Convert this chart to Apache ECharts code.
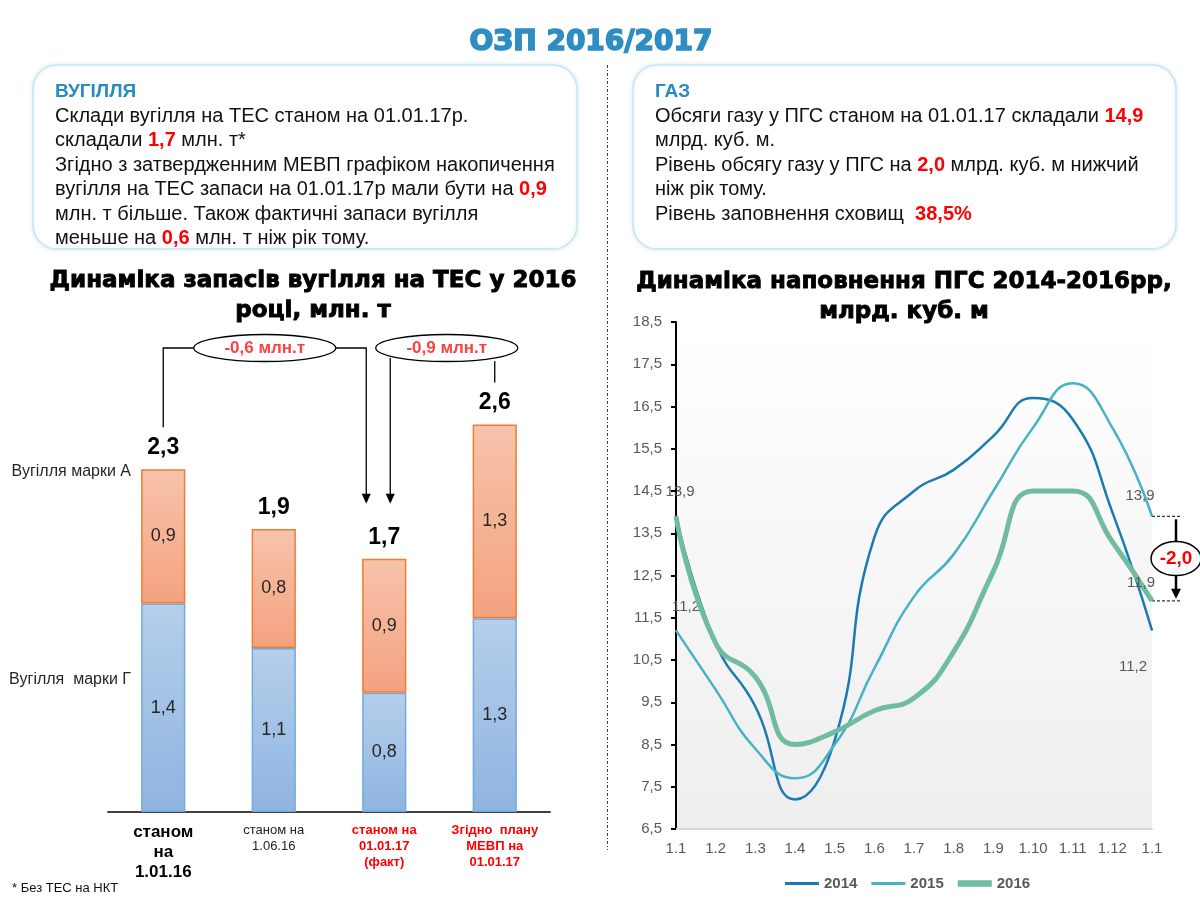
<!DOCTYPE html>
<html><head><meta charset="utf-8">
<script src="https://cdn.jsdelivr.net/npm/echarts@6/dist/echarts.min.js"></script>
<style>html,body{margin:0;padding:0;background:#fff}#c{width:1200px;height:900px}</style>
</head><body><div id="c"></div>
<script>
// ---------- DATA ----------
const coalCategories = ['станом\nна\n1.01.16', 'станом на\n1.06.16', 'станом на\n01.01.17\n(факт)', 'Згідно  плану\nМЕВП на\n01.01.17'];
const coalG = [1.4, 1.1, 0.8, 1.3];   // Вугілля марки Г
const coalA = [0.9, 0.8, 0.9, 1.3];   // Вугілля марки А
const coalTotals = [2.3, 1.9, 1.7, 2.6];
const gasMonths = ['1.1','1.2','1.3','1.4','1.5','1.6','1.7','1.8','1.9','1.10','1.11','1.12','1.1'];
const gas2014 = [13.9, 10.9, 9.4, 7.2, 8.6, 13.4, 14.5, 15.0, 15.8, 16.7, 16.2, 14.0, 11.2];
const gas2015 = [11.2, 9.8, 8.4, 7.7, 8.5, 10.3, 12.0, 13.0, 14.5, 16.0, 17.05, 16.0, 13.9];
const gas2016 = [13.9, 10.9, 10.1, 8.5, 8.8, 9.3, 9.6, 10.7, 12.6, 14.5, 14.5, 13.3, 11.9];
const gasYMin = 6.5, gasYMax = 18.5, gasYStep = 1;
const gasDiffText = '-2,0';
const coalDiffTexts = ['-0,6 млн.т', '-0,9 млн.т'];

const F = '"Liberation Sans", Arial, sans-serif';
const FH = '"DejaVu Sans", sans-serif';
const fmt = v => Number(v).toFixed(1).replace('.', ',');

const chart = echarts.init(document.getElementById('c'), null, {renderer: 'canvas', width: 1200, height: 900});

const catStyle = ['b', 'n', 'r', 'r'];
const labelBase = {show: true, color: '#595959', fontSize: 15, fontFamily: F, formatter: p => fmt(p.value)};
function withLabels(arr, map) {
  return arr.map((v, i) => map[i] ? {value: v, label: Object.assign({}, labelBase, map[i])} : v);
}

function boxText(id, x, y, lines) {
  return lines.map((ln, i) => ({
    type: 'text', id: id + i, x: x, y: y + i * 24.4,
    style: {
      text: ln, font: (i === 0 ? 'bold 19px ' : '20px ') + F, fill: i === 0 ? '#2a8bbf' : '#111',
      verticalAlign: 'middle', align: 'left',
      rich: {r: {fill: '#ff0000', fontWeight: 'bold', fontSize: 20, fontFamily: F}}
    }
  }));
}

const graphics = [
  {type: 'text', id: 'mainTitle', x: 591, y: 43, style: {text: 'ОЗП 2016/2017', font: '900 28px ' + FH, fill: '#2e8dc2', align: 'center', verticalAlign: 'middle', stroke: '#2e8dc2', lineWidth: 1.6, shadowColor: 'rgba(0,0,0,0.25)', shadowOffsetX: 1, shadowOffsetY: 1, shadowBlur: 2}},
  {type: 'rect', id: 'boxL', shape: {x: 33, y: 65, width: 544, height: 184, r: 24}, style: {fill: '#fff', stroke: '#cce4ef', lineWidth: 1.5, shadowColor: 'rgba(120,170,200,0.25)', shadowBlur: 4}},
  {type: 'rect', id: 'boxR', shape: {x: 633, y: 65, width: 543, height: 184, r: 24}, style: {fill: '#fff', stroke: '#cce4ef', lineWidth: 1.5, shadowColor: 'rgba(120,170,200,0.25)', shadowBlur: 4}},
  ...boxText('tl', 55, 92, [
    'ВУГІЛЛЯ',
    'Склади вугілля на ТЕС станом на 01.01.17р.',
    'складали {r|1,7} млн. т*',
    'Згідно з затвердженним МЕВП графіком накопичення',
    'вугілля на ТЕС запаси на 01.01.17р мали бути на {r|0,9}',
    'млн. т більше. Також фактичні запаси вугілля',
    'меньше на {r|0,6} млн. т ніж рік тому.'
  ]),
  ...boxText('tr', 655, 92, [
    'ГАЗ',
    'Обсяги газу у ПГС станом на 01.01.17 складали {r|14,9}',
    'млрд. куб. м.',
    'Рівень обсягу газу у ПГС на {r|2,0} млрд. куб. м нижчий',
    'ніж рік тому.',
    'Рівень заповнення сховищ  {r|38,5%}'
  ]),
  {type: 'line', id: 'sep', shape: {x1: 607.5, y1: 65, x2: 607.5, y2: 850}, style: {stroke: '#444', lineWidth: 1, lineDash: [3, 2, 1, 2]}},
  {type: 'text', id: 'titleL', x: 313, y: 296, style: {text: 'Динаміка запасів вугілля на ТЕС у 2016\nроці, млн. т', font: 'bold 23px ' + FH, fill: '#000', stroke: '#000', lineWidth: 0.9, align: 'center', verticalAlign: 'middle', lineHeight: 30}},
  {type: 'text', id: 'titleR', x: 904, y: 297, style: {text: 'Динаміка наповнення ПГС 2014-2016рр,\nмлрд. куб. м', font: 'bold 23px ' + FH, fill: '#000', stroke: '#000', lineWidth: 0.9, align: 'center', verticalAlign: 'middle', lineHeight: 30}},
  {type: 'text', id: 'lgA', x: 131, y: 472, style: {text: 'Вугілля марки А', font: '16px ' + F, fill: '#262626', align: 'right', verticalAlign: 'middle'}},
  {type: 'text', id: 'lgG', x: 131, y: 680, style: {text: 'Вугілля  марки Г', font: '16px ' + F, fill: '#262626', align: 'right', verticalAlign: 'middle'}},
  {type: 'text', id: 'foot', x: 12, y: 888, style: {text: '* Без ТЕС на НКТ', font: '13px ' + F, fill: '#111', align: 'left', verticalAlign: 'middle'}}
];

const lineColors = {'2014': '#1b7bb0', '2015': '#46b2c6', '2016': '#6fbd9e'};

const option = {
  animation: false,
  backgroundColor: '#fff',
  grid: [
    {left: 108, width: 442, top: 365, height: 447},
    {left: 676, width: 476, top: 322, height: 507, show: true, borderWidth: 0,
     backgroundColor: new echarts.graphic.LinearGradient(0, 0, 0, 1, [{offset: 0, color: '#ffffff'}, {offset: 1, color: '#eeeeee'}])}
  ],
  xAxis: [
    {type: 'category', gridIndex: 0, data: coalCategories,
     axisLine: {lineStyle: {color: '#404040', width: 2}}, axisTick: {show: false},
     axisLabel: {margin: 10, interval: 0,
       formatter: (v, i) => v.split('\n').map(s => '{' + catStyle[i] + '|' + s + '}').join('\n'),
       rich: {
         b: {fontSize: 17, fontWeight: 'bold', color: '#000', lineHeight: 20, fontFamily: F},
         n: {fontSize: 13, color: '#222', lineHeight: 16, fontFamily: F},
         r: {fontSize: 13, fontWeight: 'bold', color: '#ff0000', lineHeight: 16, fontFamily: F}
       }}},
    {type: 'category', gridIndex: 1, data: gasMonths, boundaryGap: false,
     axisLine: {lineStyle: {color: '#d9d9d9', width: 2}}, axisTick: {show: false},
     axisLabel: {color: '#595959', fontSize: 15, fontFamily: F, margin: 12, interval: 0}}
  ],
  yAxis: [
    {type: 'value', gridIndex: 0, min: 0, max: 3, show: false},
    {type: 'value', gridIndex: 1, min: gasYMin, max: gasYMax, interval: gasYStep,
     axisLine: {show: true, lineStyle: {color: '#000', width: 2}},
     axisTick: {show: true, length: 5, lineStyle: {color: '#000', width: 2}},
     splitLine: {show: false},
     axisLabel: {color: '#595959', fontSize: 15, fontFamily: F, formatter: v => fmt(v), margin: 14}}
  ],
  legend: {
    data: [
      {name: '2014', icon: 'path://M0,0H32V3H0Z'},
      {name: '2015', icon: 'path://M0,0H32V3H0Z'},
      {name: '2016', icon: 'path://M0,0H32V6H0Z'}
    ],
    left: 780, top: 871, itemWidth: 34, itemHeight: 14, itemGap: 14,
    textStyle: {color: '#595959', fontSize: 15, fontWeight: 'bold', fontFamily: F}
  },
  series: [
    {name: 'Вугілля марки Г', type: 'bar', stack: 'c', xAxisIndex: 0, yAxisIndex: 0, data: coalG, barWidth: '40%',
     itemStyle: {color: new echarts.graphic.LinearGradient(0, 0, 0, 1, [{offset: 0, color: '#b5cfeb'}, {offset: 1, color: '#8fb4e0'}]), borderColor: '#74a9dc', borderWidth: 1.5},
     label: {show: true, position: 'inside', color: '#262626', fontSize: 18, fontFamily: F, formatter: p => fmt(p.value)}},
    {name: 'Вугілля марки А', type: 'bar', stack: 'c', xAxisIndex: 0, yAxisIndex: 0, data: coalA, barWidth: '40%',
     itemStyle: {color: new echarts.graphic.LinearGradient(0, 0, 0, 1, [{offset: 0, color: '#f7c3ac'}, {offset: 1, color: '#f4a27f'}]), borderColor: '#ed7d31', borderWidth: 1.5},
     label: {show: true, position: 'inside', color: '#262626', fontSize: 18, fontFamily: F, formatter: p => fmt(p.value)}},
    {name: '2014', type: 'line', xAxisIndex: 1, yAxisIndex: 1, smooth: 0.5, symbol: 'circle', symbolSize: 1, showSymbol: true, z: 3,
     lineStyle: {color: lineColors['2014'], width: 2.5}, itemStyle: {color: lineColors['2014']},
     data: withLabels(gas2014, {12: {position: 'bottom', distance: 28, offset: [-19, 0]}})},
    {name: '2015', type: 'line', xAxisIndex: 1, yAxisIndex: 1, smooth: 0.5, symbol: 'circle', symbolSize: 1, showSymbol: true, z: 3,
     lineStyle: {color: lineColors['2015'], width: 2.5}, itemStyle: {color: lineColors['2015']},
     data: withLabels(gas2015, {0: {position: 'top', distance: 16, offset: [10, 0]}, 12: {position: 'top', distance: 12, offset: [-12, 0]}})},
    {name: '2016', type: 'line', xAxisIndex: 1, yAxisIndex: 1, smooth: 0.5, symbol: 'circle', symbolSize: 1, showSymbol: true, z: 4,
     lineStyle: {color: lineColors['2016'], width: 5}, itemStyle: {color: lineColors['2016']},
     data: withLabels(gas2016, {0: {position: 'top', distance: 16, offset: [4, 0]}, 12: {position: 'top', distance: 10, offset: [-11, 0]}})},
    {name: 'total', type: 'bar', stack: 'c', xAxisIndex: 0, yAxisIndex: 0, barWidth: '40%', data: coalTotals.map(() => 0),
     itemStyle: {color: 'transparent'}, silent: true,
     label: {show: true, position: 'top', distance: 10, color: '#000', fontSize: 23, fontWeight: 'bold', fontFamily: F, formatter: p => fmt(coalTotals[p.dataIndex])}}
  ],
  graphic: graphics
};
chart.setOption(option);

// ---------- annotations computed from axes ----------
const P = (si, x, y) => chart.convertToPixel({seriesIndex: si}, [x, y]);
const b0 = P(0, 0, coalTotals[0]), b1 = P(0, 1, coalTotals[1]), b2 = P(0, 2, coalTotals[2]), b3 = P(0, 3, coalTotals[3]);
const ey = 348, erx = 71, ery = 13.5;
const e1x = b1[0] - 9, e2x = b3[0] - 48;
const tip = b2[1] - 55;
const arrowHead = (x, y, w, h) => ({type: 'polygon', shape: {points: [[x - w, y - h], [x + w, y - h], [x, y]]}, style: {fill: '#000'}});
const ann = [
  {type: 'polyline', id: 'a1l', shape: {points: [[b0[0], b0[1] - 42], [b0[0], ey], [e1x - erx, ey]]}, style: {stroke: '#000', lineWidth: 1.3, fill: null}},
  {type: 'polyline', id: 'a1r', shape: {points: [[e1x + erx, ey], [b2[0] - 18, ey], [b2[0] - 18, tip - 8]]}, style: {stroke: '#000', lineWidth: 1.3, fill: null}},
  Object.assign({id: 'a1h'}, arrowHead(b2[0] - 18, tip, 4.5, 10)),
  {type: 'ellipse', id: 'e1', shape: {cx: e1x, cy: ey, rx: erx, ry: ery}, style: {fill: '#fff', stroke: '#000', lineWidth: 1.3}},
  {type: 'text', id: 'e1t', x: e1x, y: ey, style: {text: coalDiffTexts[0], font: 'bold 17px ' + F, fill: '#ff4040', align: 'center', verticalAlign: 'middle'}},
  {type: 'polyline', id: 'a2l', shape: {points: [[b2[0] + 6, ey + 10], [b2[0] + 6, tip - 8]]}, style: {stroke: '#000', lineWidth: 1.3, fill: null}},
  Object.assign({id: 'a2h'}, arrowHead(b2[0] + 6, tip, 4.5, 10)),
  {type: 'polyline', id: 'a2s', shape: {points: [[b3[0], ey + 13], [b3[0], b3[1] - 42]]}, style: {stroke: '#000', lineWidth: 1.3, fill: null}},
  {type: 'ellipse', id: 'e2', shape: {cx: e2x, cy: ey, rx: erx, ry: ery}, style: {fill: '#fff', stroke: '#000', lineWidth: 1.3}},
  {type: 'text', id: 'e2t', x: e2x, y: ey, style: {text: coalDiffTexts[1], font: 'bold 17px ' + F, fill: '#ff4040', align: 'center', verticalAlign: 'middle'}}
];
const g15 = P(3, 12, gas2015[12]), g16 = P(4, 12, gas2016[12]);
const ax = g15[0] + 24, mid = (g15[1] + g16[1]) / 2;
ann.push(
  {type: 'line', id: 'd1', shape: {x1: g15[0], y1: g15[1], x2: ax + 4, y2: g15[1]}, style: {stroke: '#333', lineWidth: 1.2, lineDash: [3, 2]}},
  {type: 'line', id: 'd2', shape: {x1: g16[0], y1: g16[1], x2: ax + 4, y2: g16[1]}, style: {stroke: '#333', lineWidth: 1.2, lineDash: [3, 2]}},
  {type: 'line', id: 'av', shape: {x1: ax, y1: g15[1] + 3, x2: ax, y2: g16[1] - 8}, style: {stroke: '#000', lineWidth: 2.5}},
  Object.assign({id: 'avh'}, arrowHead(ax, g16[1] - 2, 5, 10)),
  {type: 'ellipse', id: 'e3', shape: {cx: ax, cy: mid, rx: 25, ry: 17}, style: {fill: '#fff', stroke: '#000', lineWidth: 1.5}},
  {type: 'text', id: 'e3t', x: ax, y: mid, style: {text: gasDiffText, font: 'bold 19px ' + F, fill: '#ff0000', align: 'center', verticalAlign: 'middle'}}
);
chart.setOption({graphic: ann});
</script></body></html>
